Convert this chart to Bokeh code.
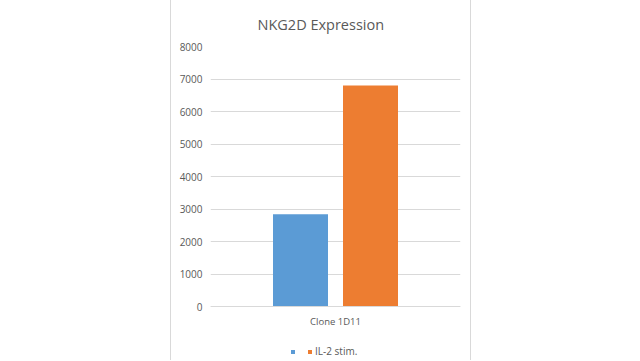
from bokeh.plotting import figure
from bokeh.models import FixedTicker, Legend, LegendItem, ColumnDataSource, Spacer
from bokeh.layouts import row
from bokeh.transform import dodge
from bokeh.core.properties import value
from bokeh.embed import file_html
from bokeh.resources import INLINE

categories = ["Clone 1D11"]
series_names = [" ", "IL-2 stim."]
series_control = [2840]
series_il2 = [6800]
y_ticks = [0, 1000, 2000, 3000, 4000, 5000, 6000, 7000, 8000]
colors = ["#5B9BD5", "#ED7D31"]

TEXT = "#595959"
FONT = "Open Sans"

# frame runs from y=46 to the figure bottom; the value 0 sits 54 px above the bottom
p = figure(x_range=categories, y_range=(-1661.5, 8000), width=301, height=360,
           output_backend="svg", toolbar_location=None, title="NKG2D Expression",
           min_border_left=39, min_border_right=12, min_border_top=46, min_border_bottom=0)

source = ColumnDataSource(dict(cat=categories, a=series_control, b=series_il2))
r1 = p.vbar(x=dodge("cat", -0.14, range=p.x_range), top="a", bottom=0, width=0.22,
            source=source, fill_color=colors[0], line_color=None)
r2 = p.vbar(x=dodge("cat", 0.14, range=p.x_range), top="b", bottom=0, width=0.22,
            source=source, fill_color=colors[1], line_color=None)

p.title.align = "left"
p.title.offset = 47
p.title.text_font = FONT
p.title.text_font_size = "14.5px"
p.title.text_font_style = "normal"
p.title.text_color = TEXT
p.title.standoff = 25

p.outline_line_color = None
p.ygrid.grid_line_color = "#d9d9d9"
p.xgrid.grid_line_color = None

p.yaxis.ticker = FixedTicker(ticks=y_ticks)
p.yaxis.axis_line_color = None
p.yaxis.major_tick_line_color = None
p.yaxis.minor_tick_line_color = None
p.yaxis.major_tick_in = 0
p.yaxis.major_tick_out = 0
p.yaxis.major_label_standoff = 8
p.yaxis.major_label_text_font = FONT
p.yaxis.major_label_text_font_size = "10px"
p.yaxis.major_label_text_color = TEXT

p.xaxis.fixed_location = 0
p.xaxis.axis_line_color = "#d9d9d9"
p.xaxis.major_tick_line_color = None
p.xaxis.minor_tick_line_color = None
p.xaxis.major_tick_in = 0
p.xaxis.major_tick_out = 0
p.xaxis.major_label_standoff = 8
p.xaxis.major_label_text_font = FONT
p.xaxis.major_label_text_font_size = "9.5px"
p.xaxis.major_label_text_color = TEXT

legend = Legend(items=[LegendItem(label=value(series_names[0]), renderers=[r1]),
                       LegendItem(label=value(series_names[1]), renderers=[r2])],
                orientation="horizontal", location=(80, 2),
                glyph_width=5, glyph_height=5, label_standoff=3, spacing=8,
                label_width=1, label_height=12,
                label_text_font=FONT, label_text_font_size="10px", label_text_color=TEXT,
                border_line_color=None, background_fill_alpha=0, padding=0, margin=0)
p.add_layout(legend, "center")

p.styles = {"border-left": "1px solid #d9d9d9", "border-right": "1px solid #d9d9d9"}

layout = row(Spacer(width=170, height=360), p)

open("out.html", "w").write(file_html(layout, INLINE))
